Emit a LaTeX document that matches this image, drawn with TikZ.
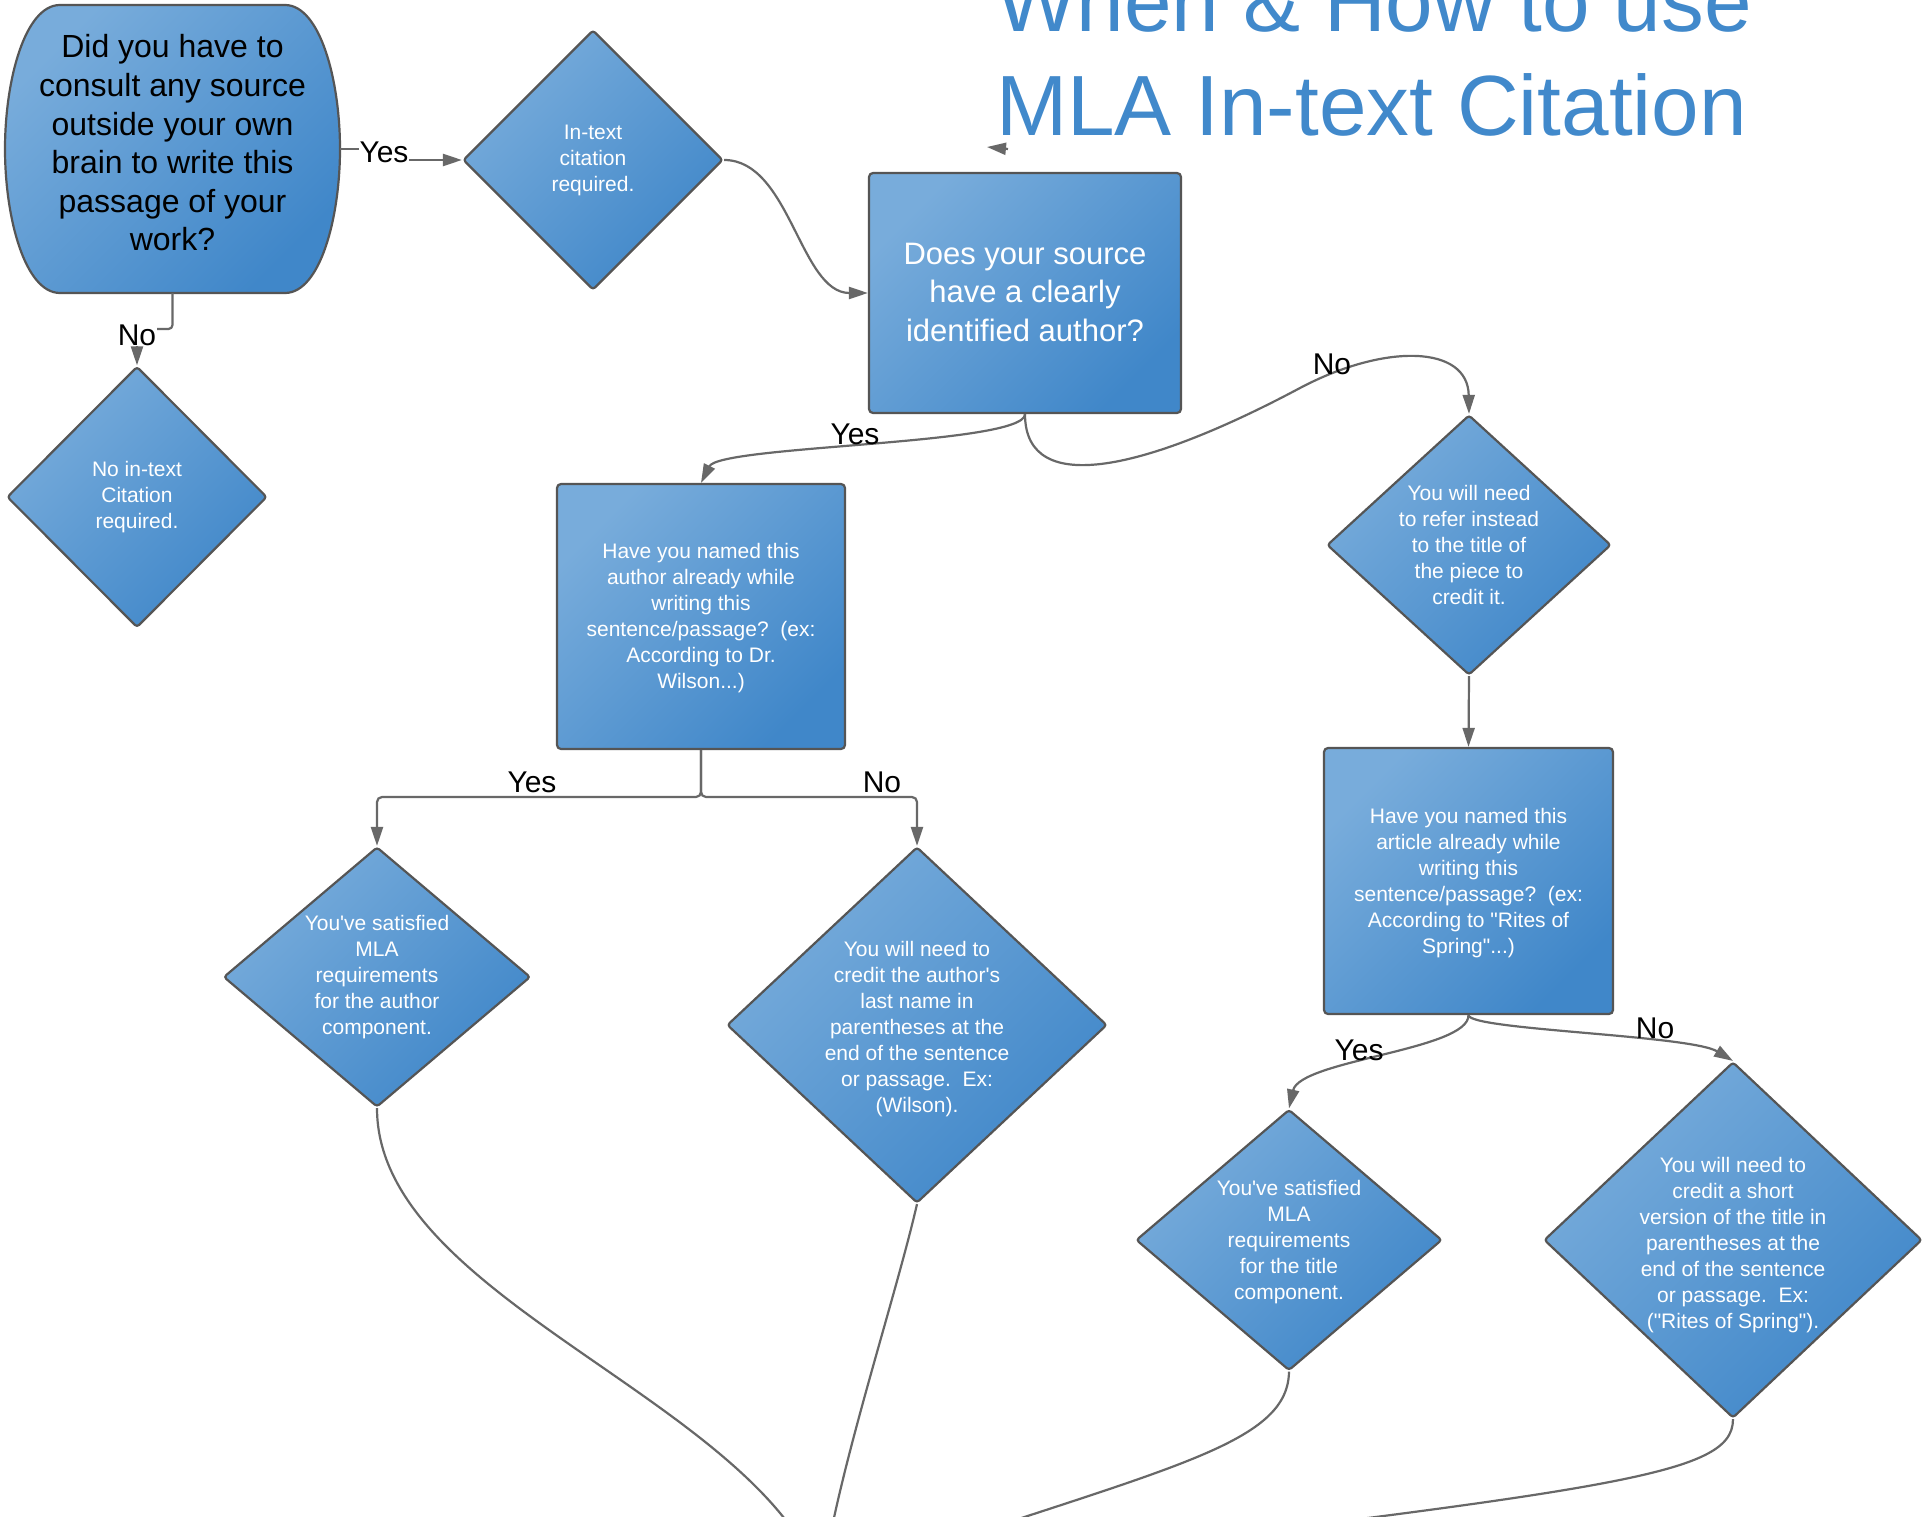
\documentclass[tikz,border=0pt]{standalone}
\usepackage{fontspec}
\setmainfont{Liberation Sans}
\usetikzlibrary{shapes.geometric,arrows.meta,calc}
\definecolor{blueL}{HTML}{78ACDB}
\definecolor{blueD}{HTML}{4087C9}
\definecolor{edgecol}{HTML}{555555}
\definecolor{conncol}{HTML}{686868}
\definecolor{titleblue}{HTML}{4189CB}
\tikzset{
  shapefill/.style={top color=blueL, bottom color=blueD, shading angle=45, draw=edgecol, line width=2.2pt},
  boxshape/.style={shapefill, rectangle, rounded corners=4pt, inner sep=0pt},
  diashape/.style={shapefill, diamond, rounded corners=3pt, inner sep=0pt, aspect=1},
  smalltxt/.style={text=white, align=center, font=\fontsize{21}{26}\selectfont, inner sep=0pt},
  bigtxt/.style={text=white, align=center, font=\fontsize{31}{38.5}\selectfont, inner sep=0pt},
  starttxt/.style={text=black, align=center, font=\fontsize{32}{38.6}\selectfont, inner sep=0pt},
  conn/.style={draw=conncol, line width=2.2pt, -{Triangle[length=19pt,width=12pt]}},
  plainconn/.style={draw=conncol, line width=2.2pt},
  lab/.style={font=\fontsize{30}{36}\selectfont, text=black, inner sep=1pt},
  titletxt/.style={font=\fontsize{85.5}{100}\selectfont, text=titleblue, inner sep=0pt, anchor=base west}
}
\begin{document}
\begin{tikzpicture}[x=1pt,y=-1pt]
\useasboundingbox (0,0) rectangle (1923,1517);
\clip (0,0) rectangle (1923,1517);
\fill[white] (0,0) rectangle (1923,1517);

% title
\node[titletxt] (title1) at (996,32) {When \& How to use};
\node[titletxt] (title2) at (996,136) {MLA In-text Citation};
\coordinate (tipA) at (1008,149);
\coordinate (tipB) at (987,147);
\draw[conn] (tipA) -- (tipB);

% start shape
\path[shapefill] (60,5) -- (285,5) .. controls (320,5) and (340,80) .. (340,149)
  .. controls (340,218) and (320,293) .. (285,293) -- (60,293)
  .. controls (25,293) and (5,218) .. (5,149) .. controls (5,80) and (25,5) .. (60,5) -- cycle;
\node[minimum width=335pt, minimum height=288pt, inner sep=0pt] (start) at (172.5,149) {};
\node[starttxt] (startt) at (172.5,143) {Did you have to\\consult any source\\outside your own\\brain to write this\\passage of your\\work?};

% nodes
\node[diashape, minimum width=260pt, minimum height=260pt] (d2) at (593,160) {};
\node[smalltxt] at (d2) {In-text\\citation\\required.};

\node[boxshape, minimum width=312pt, minimum height=240pt] (b3) at (1025,293) {};
\node[bigtxt] at (1025,292) {Does your source\\have a clearly\\identified author?};

\node[diashape, minimum width=260pt, minimum height=261pt] (d4) at (137,497) {};
\node[smalltxt] at (d4) {No in-text\\Citation\\required.};

\node[boxshape, minimum width=288pt, minimum height=265pt] (b7) at (701,616.5) {};
\node[smalltxt] at (701,618) {Have you named this\\author already while\\writing this\\sentence/passage?\ \ (ex:\\According to Dr.\\Wilson...)};

\node[diashape, minimum width=284pt, minimum height=260pt] (d8) at (1469,545) {};
\node[smalltxt] at (1469,545) {You will need\\to refer instead\\to the title of\\the piece to\\credit it.};

\node[boxshape, minimum width=289pt, minimum height=266pt] (b9) at (1468.5,881) {};
\node[smalltxt] at (1468.5,883) {Have you named this\\article already while\\writing this\\sentence/passage?\ \ (ex:\\According to \textquotedbl Rites of\\Spring\textquotedbl...)};

\node[diashape, minimum width=307pt, minimum height=260pt] (d11) at (377,977) {};
\node[smalltxt] at (377,977) {You\textquotesingle ve satisfied\\MLA\\requirements\\for the author\\component.};

\node[diashape, minimum width=380pt, minimum height=356pt] (d12) at (917,1025) {};
\node[smalltxt] at (917,1029) {You will need to\\credit the author\textquotesingle s\\last name in\\parentheses at the\\end of the sentence\\or passage.\ \ Ex:\\(Wilson).};

\node[diashape, minimum width=306pt, minimum height=261pt] (d14) at (1289,1240) {};
\node[smalltxt] at (1289,1242) {You\textquotesingle ve satisfied\\MLA\\requirements\\for the title\\component.};

\node[diashape, minimum width=378pt, minimum height=356pt] (d15) at (1733,1240) {};
\node[smalltxt] at (1733,1245) {You will need to\\credit a short\\version of the title in\\parentheses at the\\end of the sentence\\or passage.\ \ Ex:\\(\textquotedbl Rites of Spring\textquotedbl).};

\coordinate (sink) at (822,1585);

% connectors
\draw[conn] (start.east) -- (384,149) -- (384,160) -- (d2.west);
\node[lab, fill=white] at (384,152) {Yes};

\draw[conn, rounded corners=4pt] (start.south) -- (172.5,329) -- (137,329) -- (d4.north);
\node[lab, fill=white] at (137,335) {No};

\draw[conn] (d2.east) .. controls (790,160) and (800,293) .. (b3.west);

\draw[conn] (b3.south) .. controls (1025,445) and (720,445) .. (b7.north);
\node[lab] at (855,434) {Yes};

\draw[conn] (b3.south) .. controls (1025,500) and (1150,468) .. (1300,388)
  .. controls (1385,343) and (1468,345) .. (d8.north);
\node[lab] at (1332,364) {No};

\draw[conn] (d8.south) -- (b9.north);

\draw[conn, rounded corners=5pt] (b7.south) -- (701,797) -| (d11.north);
\draw[conn, rounded corners=5pt] (b7.south) -- (701,797) -| (d12.north);
\node[lab] at (532,782) {Yes};
\node[lab] at (882,782) {No};

\draw[conn] (b9.south) .. controls (1469,1050) and (1300,1060) .. (d14.north);
\draw[conn] (b9.south) .. controls (1469,1030) and (1690,1035) .. (d15.north);
\node[lab] at (1359,1050) {Yes};
\node[lab] at (1655,1028) {No};

\draw[plainconn] (d11.south) .. controls (377,1300) and (760,1400) .. (sink);
\draw[plainconn] (d12.south) .. controls (895,1300) and (835,1480) .. (sink);
\draw[plainconn] (d14.south) .. controls (1288,1450) and (1150,1470) .. (sink);
\draw[plainconn] (d15.south) .. controls (1733,1480) and (1600,1490) .. (sink);
\end{tikzpicture}
\end{document}
